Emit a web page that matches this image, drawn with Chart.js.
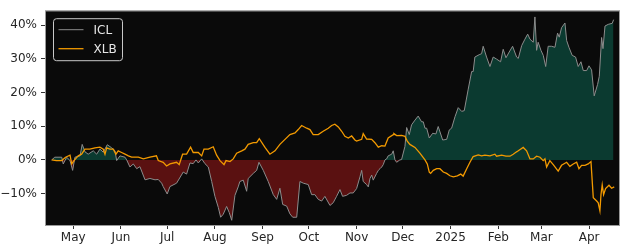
<!DOCTYPE html>
<html>
<head>
<meta charset="utf-8">
<script src="https://cdn.jsdelivr.net/npm/chart.js@4"></script>
<style>
  body { margin: 0; background: #fff; }
  canvas { display: block; }
</style>
</head>
<body>
<canvas id="chart" width="625" height="250"></canvas>
<script>
// days counted from 2024-05-01, values in % return since start
const iclDays = [-14, -12, -7.5, -6.5, -4.3, -2.1, -0.4, 1.1, 4.4, 5.8, 7.6, 9.7, 13, 15.2, 17.3, 19.5, 22.1, 24.9, 27.1, 28.2,
  30.3, 33.6, 34.7, 36.8, 39, 41.2, 43.3, 46.6, 49.8, 53.1, 55.2, 57.4, 58.4, 61, 62.8, 67.1, 71.4, 73.6, 75.8, 77.9,
  79.7, 81.2, 83.4, 85.5, 87.7, 89.9, 92, 94.2, 95.7, 97.4, 99.6, 101.3, 102.9, 105, 107.1, 108.2, 110.4, 112.6, 113.6, 116.9,
  119.1, 120.6, 123.4, 126.6, 129.9, 132.1, 134.2, 136, 138.6, 140.7, 142.5, 145.1, 147.2, 149.4, 152.6, 154.8, 156.9, 159.1, 161.3, 163.4,
  166.7, 168.8, 171, 173.2, 174.9, 177.5, 179.7, 181.8, 184, 186.2, 187.3, 188.3, 190.5, 191.6, 192.7, 193.8, 194.8, 197, 198.1, 199.2,
  200.3, 201.3, 202.4, 203.5, 204.5, 206.8, 207.8, 208.9, 210, 212.1, 213.2, 215.4, 216.5, 218.2, 219.7, 221.9, 224, 226.2, 227.3, 228.4,
  229.5, 231.2, 233.4, 235.5, 237, 239.9, 242.5, 244.2, 245.7, 247.9, 250, 252.2, 253.9, 256.5, 258.7, 259.7, 260.8, 263.6, 265.2, 266.2,
  268.4, 270.6, 272.7, 274.9, 277.5, 279.2, 281, 283.1, 285.3, 287.9, 289, 291.2, 293.3, 295.1, 296.6, 298.7, 299.8, 300.9, 301.9, 303.7,
  305.2, 306.8, 308.4, 310.6, 312.8, 314.5, 315.6, 317.1, 319.3, 320.4, 321.9, 324, 326.2, 327.9, 329.7, 331.2, 333.4, 334.9, 336.6, 338.3,
  340.5, 341.6, 343.1, 344, 345.3, 347.4, 350, 350.9];
const iclValues = [0, 0.8, 0.8, -1.2, 0.8, -0.2, -3.1, 0.8, 1.2, 4.6, 2.4, 1.7, 2.7, 1.7, 3.2, 2.3, 4.5, 3.6, 2.7, -0.2,
  1.2, 0.8, 0, -2.1, -1.2, -2.6, -2, -5.9, -5.5, -5.9, -5.8, -6.9, -7.9, -10.1, -7.9, -6.9, -3.6, -4.2, -0.9, -1.1,
  0, -0.9, 0.3, -1.1, -2.1, -6.4, -10.8, -14.1, -17, -16.1, -13.8, -15.6, -17.9, -10.5, -8, -6.4, -6, -9.3, -5.5, -4,
  -3.1, -0.7, -3.1, -6.4, -10.3, -11.7, -8.4, -13.2, -13.7, -16, -17, -17, -6.4, -6.9, -7.3, -10.3, -10.3, -11.7, -12.2, -10.8,
  -13.5, -12.7, -10.8, -8.8, -10.8, -10.5, -9.8, -9.8, -8.5, -5, -3.1, -6.4, -7.3, -8, -5.5, -4.5, -6, -4, -3.1, -2.6,
  -2.1, -1.4, 0, 0.3, 1.2, 1.7, 2.7, 0, -0.7, 0, 0.1, 4, 9.6, 7.5, 10.4, 11.8, 13, 11.3, 11.3, 9.4,
  9.4, 6.5, 7.9, 7.7, 9.9, 5.9, 6.1, 8.9, 9.4, 12.8, 15.5, 14.4, 14.6, 21, 26.2, 26.2, 30.5, 31.2, 31.5, 33.7,
  30.5, 27.7, 30.5, 29.9, 29.1, 32.8, 30.3, 32, 33.7, 30.5, 30.1, 33.9, 35.8, 37.3, 35.8, 34.9, 42.4, 32.5, 34.9, 32.5,
  31, 27.7, 33.7, 33.7, 33.4, 37.6, 36.4, 39.2, 40.6, 35.4, 33.4, 31, 30.5, 27.7, 29.1, 26.5, 26.5, 27.9, 26.7, 19,
  22.4, 24.8, 36.3, 33, 39.7, 40.2, 40.5, 41.6];

const xlbDays = [-14, -11, -7.5, -5, -2.1, -1, 0.5, 3.2, 5.4, 7.6, 10.8, 14.1, 17.3, 19.5, 20.6, 21.7, 23.8, 26, 27.7, 29.2,
  31.4, 33.6, 35.8, 37.9, 42.3, 45.5, 49.8, 54, 55.2, 58.4, 60.6, 62.8, 67.1, 68.8, 71, 73.6, 76.2, 77.9, 81.2, 83.4,
  84.9, 87.7, 90.9, 93.1, 95.3, 97.9, 99.2, 101.8, 103.9, 106.1, 109.4, 111.5, 113.6, 116.9, 119.1, 120.8, 124.5, 127.7, 131, 134.2,
  137.5, 140.7, 144, 146.1, 148.3, 151.6, 153.7, 155.8, 159.1, 162.3, 165.6, 167.8, 169.9, 172.1, 174.3, 176.4, 178.6, 180.8, 182.9, 184,
  187.3, 188.3, 190.5, 193.8, 195.9, 198.1, 200.3, 202.4, 204.5, 207.8, 208.2, 210, 213.2, 215.4, 216.9, 218.6, 221.9, 225.1, 228.4, 229.9,
  231.2, 232.1, 233.8, 236, 238.1, 240.3, 242.5, 244.6, 246.8, 249.4, 251.6, 253.2, 255.5, 257.6, 259.7, 263, 265.2, 267.3, 270.6, 273.8,
  274.9, 278.2, 281, 283.6, 285.7, 287.9, 289, 292.2, 294.4, 296.6, 298.7, 300.9, 303.1, 305.2, 306.3, 307.4, 309.5, 311.7, 314.9, 317.1,
  320.4, 322.5, 324.7, 326.9, 328.4, 330.1, 332.3, 334.4, 336.2, 337.7, 339.9, 340.9, 342, 342.7, 343.5, 344.4, 345.7, 347.9, 349.6, 351.3];
const xlbValues = [0, -0.2, -0.2, 0.8, 1.4, -1.2, -0.2, 1.2, 1.7, 3.2, 3.2, 3.6, 3.8, 3.2, 1.7, 3.6, 3.2, 3.2, 1.7, 2.7,
  2.2, 1.7, 1.2, 0.8, 0.8, 0.3, 0.8, 1.2, -0.2, -0.7, -1.8, -1.2, -0.7, -1.4, 1.7, 1.7, 3.8, 2.2, 2.2, 1.2,
  3.2, 3.2, 3.9, 1.4, -0.2, -1.4, -0.2, -0.5, 0.3, 2, 2.7, 3.2, 4.6, 5.1, 5.1, 6.3, 3.7, 1.7, 2.7, 4.6,
  6.1, 7.5, 8, 9, 10.2, 9.4, 9, 7.5, 7.5, 8.5, 9.4, 10.2, 10.6, 9.8, 8.5, 7, 6.5, 7.1, 5.9, 5.6,
  6.1, 7.8, 6.2, 6.1, 5.1, 3.8, 4.2, 4.1, 6.5, 7.5, 7.8, 7.2, 7.3, 7, 5.6, 4.6, 3.7, 2, 0, -1.2,
  -3.6, -4, -3.1, -2.6, -2.6, -3.6, -4, -4.7, -5, -4.7, -4.2, -4.8, -2.6, -0.7, 1, 1.5, 1.2, 1.4, 1.2, 1.7,
  1.1, 1.4, 1.1, 1.1, 1.7, 2.4, 2.7, 3.7, 2.7, 0.3, 0.3, 1.1, 0.8, -0.2, 0.3, -2.1, -0.2, -1.4, -3.3, -1.6,
  -0.7, -1.9, -1.2, -0.7, -2.6, -1.6, -1.6, -1.2, -0.5, -11.2, -12.2, -12.7, -15.1, -10.3, -7.4, -10.3, -8.5, -7.5, -8.4, -8];

const monthTicks = [0, 31, 61, 92, 123, 153, 184, 214, 245, 276, 304, 335];
const monthLabels = ['May', 'Jun', 'Jul', 'Aug', 'Sep', 'Oct', 'Nov', 'Dec', '2025', 'Feb', 'Mar', 'Apr'];
const yTicks = [-10, 0, 10, 20, 30, 40];

const FONT = "'DejaVu Sans', sans-serif";

function toPoints(xs, ys) {
  return xs.map((x, i) => ({ x: x, y: ys[i] }));
}

// dark plot area, frame and in-plot legend
const plotDecor = {
  id: 'plotDecor',
  beforeDatasetsDraw(chart) {
    const a = chart.chartArea, ctx = chart.ctx;
    ctx.save();
    ctx.fillStyle = '#0a0a0a';
    ctx.fillRect(a.left, a.top, a.right - a.left, a.bottom - a.top);
    ctx.restore();
  },
  afterDraw(chart) {
    const a = chart.chartArea, ctx = chart.ctx;
    ctx.save();
    ctx.strokeStyle = '#9a9a9a';
    ctx.lineWidth = 1;
    ctx.strokeRect(a.left - 0.5, a.top - 0.5, a.right - a.left + 1, a.bottom - a.top + 1);

    // legend box
    const bx = a.left + 7.5, by = a.top + 7.5, bw = 69, bh = 42;
    ctx.fillStyle = 'rgba(10,10,10,0.8)';
    ctx.strokeStyle = '#c8c8c8';
    ctx.beginPath();
    ctx.roundRect(bx, by, bw, bh, 3);
    ctx.fill();
    ctx.stroke();
    ctx.font = '12px ' + FONT;
    ctx.textBaseline = 'middle';
    chart.data.datasets.forEach((ds, i) => {
      const y = by + 11 + i * 19;
      ctx.strokeStyle = ds.borderColor;
      ctx.lineWidth = ds.borderWidth;
      ctx.beginPath();
      ctx.moveTo(bx + 5, y);
      ctx.lineTo(bx + 30, y);
      ctx.stroke();
      ctx.fillStyle = '#e6e6e6';
      ctx.fillText(ds.label, bx + 40, y + 1);
    });
    ctx.restore();
  }
};

new Chart(document.getElementById('chart'), {
  type: 'line',
  data: {
    datasets: [
      {
        label: 'ICL',
        data: toPoints(iclDays, iclValues),
        borderColor: '#8c8c8c',
        borderWidth: 1,
        pointRadius: 0,
        tension: 0,
        order: 1,
        fill: { target: { value: 0 }, above: '#0b3a30', below: '#5a1111' }
      },
      {
        label: 'XLB',
        data: toPoints(xlbDays, xlbValues),
        borderColor: '#f39a00',
        borderWidth: 1.3,
        pointRadius: 0,
        tension: 0,
        order: 0,
        fill: false
      }
    ]
  },
  options: {
    responsive: false,
    animation: false,
    layout: { padding: { top: 5, right: 6, left: 0, bottom: 0 } },
    plugins: {
      legend: { display: false },
      tooltip: { enabled: false }
    },
    scales: {
      x: {
        type: 'linear',
        min: -17.7,
        max: 354.4,
        afterBuildTicks: s => { s.ticks = monthTicks.map(v => ({ value: v })); },
        afterFit: s => { s.height = 25; },
        ticks: {
          autoSkip: false,
          maxRotation: 0,
          padding: 2,
          color: '#262626',
          font: { family: FONT, size: 12 },
          callback: (v) => monthLabels[monthTicks.indexOf(v)]
        },
        grid: { drawOnChartArea: false, drawTicks: true, tickLength: 4, color: '#333' },
        border: { display: false }
      },
      y: {
        min: -19.3,
        max: 44.1,
        afterBuildTicks: s => { s.ticks = yTicks.map(v => ({ value: v })); },
        afterFit: s => { s.width = 46; },
        ticks: {
          padding: 4,
          color: '#262626',
          font: { family: FONT, size: 12 },
          callback: v => (v < 0 ? '\u2212' + Math.abs(v) : v) + '%'
        },
        grid: { drawOnChartArea: false, drawTicks: true, tickLength: 5, color: '#333' },
        border: { display: false }
      }
    }
  },
  plugins: [plotDecor]
});
</script>
</body>
</html>
